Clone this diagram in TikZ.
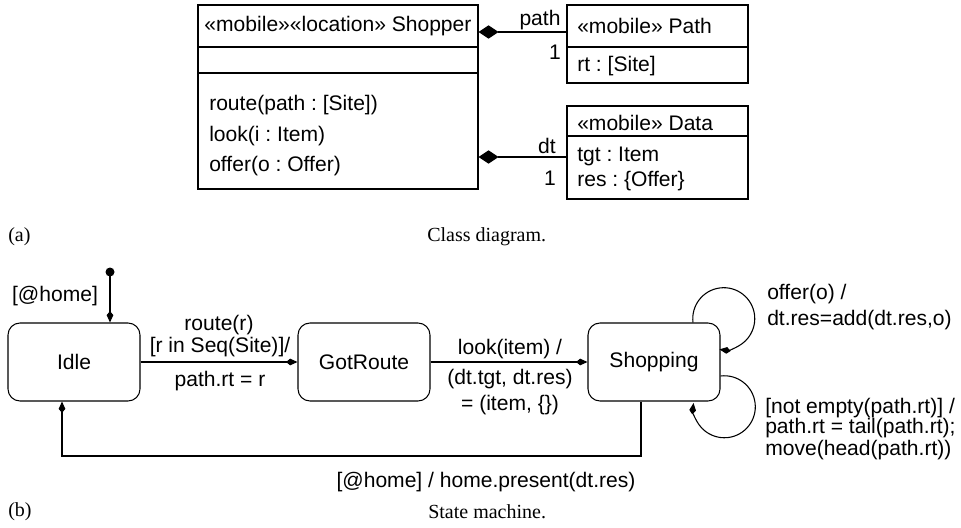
\documentclass[tikz,border=0pt]{standalone}
\usepackage{fontspec}
\setmainfont{Liberation Sans}
\newfontfamily\capfont{Liberation Serif}
\usetikzlibrary{arrows.meta,calc}
\frenchspacing
\tikzset{
  umlbox/.style={draw, line width=0.8pt, inner sep=0pt},
  statebox/.style={draw, line width=0.8pt, rounded corners=9pt, minimum width=99pt, minimum height=58.5pt, inner sep=0pt},
  txt/.style={inner sep=0pt, anchor=west},
  ctxt/.style={inner sep=0pt, align=center},
  comp/.style={{Diamond[length=15pt,width=10pt]}-, line width=0.8pt},
  tr/.style={-{Kite[length=8.5pt,width=5pt,inset=3pt]}, line width=0.8pt},
  capt/.style={inner sep=0pt, font=\capfont\fontsize{15}{18}\selectfont}
}
\begin{document}
\begin{tikzpicture}[x=0.75pt,y=0.75pt,font=\fontsize{15.8}{18}\selectfont]
\useasboundingbox (0,0) rectangle (961,-528);

% ---------- class diagram ----------
\node[umlbox, minimum width=210pt, minimum height=138pt] (shopper) at (338,-97) {};
\coordinate (s1) at (0,-47);
\coordinate (s2) at (0,-73);
\draw[line width=0.8pt] (shopper.west |- s1) -- (shopper.east |- s1);
\draw[line width=0.8pt] (shopper.west |- s2) -- (shopper.east |- s2);
\node[ctxt] (shname) at (338,-26) {«mobile»«location» Shopper};
\node[txt] (m1) at (209,-105) {route(path : [Site])};
\node[txt] (m2) at (209,-136) {look(i : Item)};
\node[txt] (m3) at (209,-166) {offer(o : Offer)};

\node[umlbox, minimum width=135.75pt, minimum height=58.5pt] (path) at (657.5,-44) {};
\coordinate (p1) at (0,-47);
\draw[line width=0.8pt] (path.west |- p1) -- (path.east |- p1);
\node[txt] (pname) at (577,-26) {«mobile» Path};
\node[txt] (prt) at (577,-66) {rt : [Site]};

\node[umlbox, minimum width=135.75pt, minimum height=69.75pt] (data) at (657.5,-152.5) {};
\coordinate (d1) at (0,-136);
\draw[line width=0.8pt] (data.west |- d1) -- (data.east |- d1);
\node[txt] (dname) at (577,-123) {«mobile» Data};
\node[txt] (dtgt) at (577,-156) {tgt : Item};
\node[txt] (dres) at (577,-181) {res : {\{}Offer{\}}};

\coordinate (a1) at (0,-32);
\coordinate (a2) at (0,-157);
\draw[comp] (shopper.east |- a1) -- (path.west |- a1);
\draw[comp] (shopper.east |- a2) -- (data.west |- a2);
\node[ctxt] (lpath) at (540,-20) {path};
\node[ctxt] (lp1) at (555,-52) {1};
\node[ctxt] (ldt) at (547,-146) {dt};
\node[ctxt] (ld1) at (550,-178) {1};

\node[capt, anchor=west] (capa) at (8,-237) {(a)};
\node[capt, anchor=west] (capa2) at (427,-237) {Class diagram.};

% ---------- state machine ----------
\node[statebox] (idle) at (74,-362) {Idle};
\node[statebox] (got) at (364,-362) {GotRoute};
\node[statebox] (shop) at (654,-362) {Shopping};

\fill (110,-272) circle (4.5) coordinate (init);
\draw[tr] (init) -- (idle.north -| init);
\node[ctxt] (lhome) at (55,-296) {[@home]};

\draw[tr] (idle.east) -- (got.west);
\node[ctxt] (lr1) at (219,-325) {route(r)};
\node[ctxt] (lr2) at (220,-347) {[r in Seq(Site)]/};
\node[ctxt] (lr3) at (220,-381) {path.rt = r};

\draw[tr] (got.east) -- (shop.west);
\node[ctxt] (ll1) at (510,-349) {look(item) /};
\node[ctxt] (ll2) at (510,-379) {(dt.tgt, dt.res)};
\node[ctxt] (ll3) at (510,-405) {= (item, {\{\}})};

\draw[tr] ($(shop.north)+(39,0)$) arc[start angle=187, end angle=-98, radius=31];
\node[txt] (lo1) at (767,-294) {offer(o) /};
\node[txt] (lo2) at (767,-320) {dt.res=add(dt.res,o)};

\draw[tr] ($(shop.east)+(0,-14)$) arc[start angle=97, end angle=-187, radius=31];
\node[txt] (ln1) at (765,-408) {[not empty(path.rt)] /};
\node[txt] (ln2) at (765,-428) {path.rt = tail(path.rt);};
\node[txt] (ln3) at (765,-450) {move(head(path.rt))};

\coordinate (r1) at (641,-456);
\coordinate (r2) at (62,-456);
\draw[tr] (shop.south -| r1) -- (r1) -- (r2) -- (idle.south -| r2);
\node[ctxt] (lback) at (486,-482) {[@home] / home.present(dt.res)};

\node[capt, anchor=west] (capb) at (8,-512) {(b)};
\node[capt, anchor=west] (capb2) at (428,-512) {State machine.};
\end{tikzpicture}
\end{document}
